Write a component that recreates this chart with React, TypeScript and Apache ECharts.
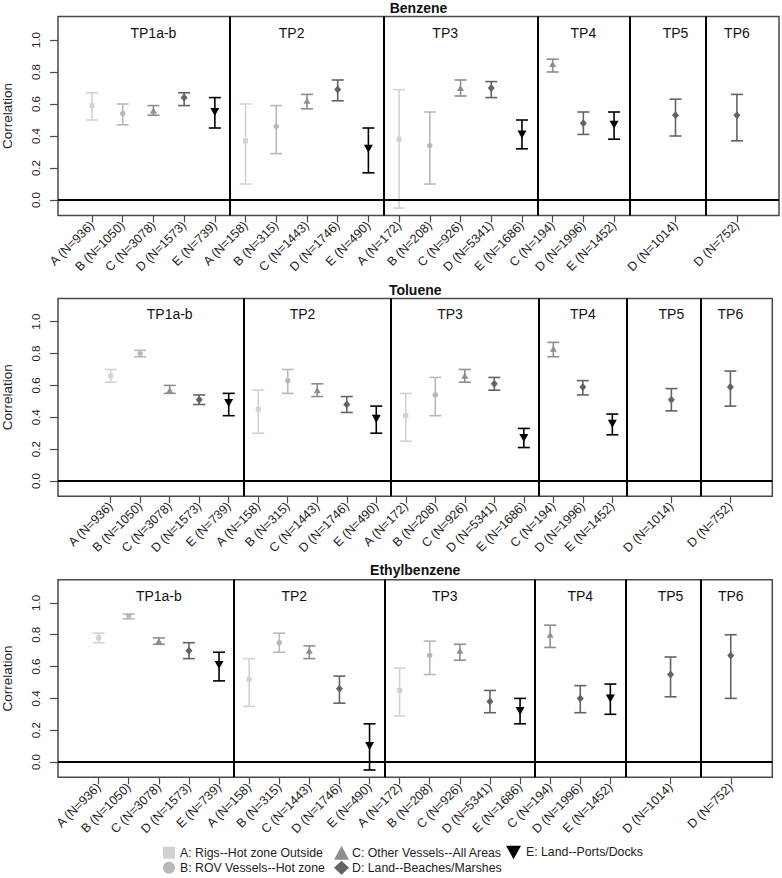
import React, { useEffect, useRef } from "react";
import * as echarts from "echarts";

// ---- data ----
const positions = [0, 1, 2, 3, 4, 5, 6, 7, 8, 9, 10, 11, 12, 13, 14, 15, 16, 17, 19, 21];
const groupOf = ["A", "B", "C", "D", "E", "A", "B", "C", "D", "E", "A", "B", "C", "D", "E", "C", "D", "E", "D", "D"];
const tickLabels = [
  "A (N=936)", "B (N=1050)", "C (N=3078)", "D (N=1573)", "E (N=739)",
  "A (N=158)", "B (N=315)", "C (N=1443)", "D (N=1746)", "E (N=490)",
  "A (N=172)", "B (N=208)", "C (N=926)", "D (N=5341)", "E (N=1686)",
  "C (N=194)", "D (N=1996)", "E (N=1452)", "D (N=1014)", "D (N=752)",
];
const tpLabels = ["TP1a-b", "TP2", "TP3", "TP4", "TP5", "TP6"];
const tpCenters = [2, 6.5, 11.5, 16, 19, 21];
const tpDividers = [4.5, 9.5, 14.5, 17.5, 20];
const yTicks = [0, 0.2, 0.4, 0.6, 0.8, 1.0];

const chemicals = ["Benzene", "Toluene", "Ethylbenzene"];

const benzeneMean = [0.59, 0.54, 0.56, 0.64, 0.55, 0.37, 0.46, 0.62, 0.69, 0.32, 0.38, 0.34, 0.70, 0.70, 0.41, 0.85, 0.48, 0.47, 0.53, 0.53];
const benzeneLow = [0.50, 0.47, 0.53, 0.59, 0.45, 0.10, 0.29, 0.57, 0.62, 0.17, -0.05, 0.10, 0.65, 0.64, 0.32, 0.80, 0.41, 0.38, 0.40, 0.37];
const benzeneHigh = [0.67, 0.60, 0.59, 0.67, 0.64, 0.60, 0.59, 0.66, 0.75, 0.45, 0.69, 0.55, 0.75, 0.74, 0.50, 0.88, 0.55, 0.55, 0.63, 0.66];

const tolueneMean = [0.66, 0.80, 0.57, 0.51, 0.49, 0.45, 0.63, 0.57, 0.48, 0.39, 0.41, 0.54, 0.66, 0.61, 0.27, 0.83, 0.59, 0.36, 0.51, 0.59];
const tolueneLow = [0.62, 0.78, 0.55, 0.48, 0.41, 0.30, 0.55, 0.53, 0.43, 0.30, 0.25, 0.41, 0.62, 0.57, 0.21, 0.78, 0.54, 0.29, 0.44, 0.47];
const tolueneHigh = [0.70, 0.82, 0.60, 0.54, 0.55, 0.57, 0.70, 0.61, 0.53, 0.47, 0.55, 0.65, 0.70, 0.65, 0.33, 0.87, 0.63, 0.42, 0.58, 0.69];

const ethylMean = [0.78, 0.92, 0.76, 0.70, 0.61, 0.52, 0.75, 0.70, 0.46, 0.10, 0.45, 0.67, 0.70, 0.38, 0.32, 0.80, 0.40, 0.40, 0.55, 0.67];
const ethylLow = [0.75, 0.90, 0.74, 0.65, 0.51, 0.35, 0.69, 0.65, 0.37, -0.05, 0.29, 0.55, 0.64, 0.31, 0.24, 0.72, 0.31, 0.30, 0.41, 0.40];
const ethylHigh = [0.81, 0.93, 0.78, 0.75, 0.69, 0.65, 0.81, 0.73, 0.54, 0.24, 0.59, 0.76, 0.74, 0.45, 0.40, 0.86, 0.48, 0.49, 0.66, 0.80];

const groups = ["A", "B", "C", "D", "E"];
const groupNames = [
  "A: Rigs--Hot zone Outside",
  "B: ROV Vessels--Hot zone",
  "C: Other Vessels--All Areas",
  "D: Land--Beaches/Marshes",
  "E: Land--Ports/Docks",
];

// ---- styles ----
const FONT = "Liberation Sans, Arial, Helvetica, sans-serif";
const groupColors = ["#d2d2d2", "#b8b8b8", "#8e8e8e", "#636363", "#000000"];
const groupSymbols = ["rect", "circle", "triangle", "diamond", "triangle"];
const groupSizes: any[] = [5, 5.5, [7, 6], [7, 8], [9, 8]];
const groupRotate = [0, 0, 0, 0, 180];
const downTri = "path://M0,0L10,0L5,9Z";

const panels = [
  { top: 16.6, height: 198.8, right: 3, xMin: -1.107, xMax: 22.37, titleX: 418.5, titleTop: 1 },
  { top: 298.4, height: 197.9, right: 9.7, xMin: -1.785, xMax: 22.42, titleX: 415.2, titleTop: 282.5 },
  { top: 579.7, height: 197.6, right: 9.7, xMin: -1.35, xMax: 22.38, titleX: 415.2, titleTop: 563 },
];

function buildOption() {
  const means = [benzeneMean, tolueneMean, ethylMean];
  const lows = [benzeneLow, tolueneLow, ethylLow];
  const highs = [benzeneHigh, tolueneHigh, ethylHigh];

  const grid: any[] = [];
  const xAxis: any[] = [];
  const yAxis: any[] = [];
  const title: any[] = [];
  const series: any[] = [];

  panels.forEach((p, pi) => {
    grid.push({
      left: 58,
      right: p.right,
      top: p.top,
      height: p.height,
      containLabel: false,
      outerBoundsMode: "none",
      show: true,
      borderColor: "#4a4a4a",
      borderWidth: 1.5,
      backgroundColor: "transparent",
    });
    xAxis.push({
      type: "value",
      gridIndex: pi,
      position: "bottom",
      min: p.xMin,
      max: p.xMax,
      splitLine: { show: false },
      axisLine: { show: false, onZero: false },
      axisTick: {
        show: true,
        customValues: positions,
        length: 7,
        lineStyle: { color: "#4a4a4a", width: 1.2 },
      },
      axisLabel: {
        customValues: positions,
        rotate: 45,
        margin: 8,
        fontSize: 12.5,
        fontFamily: FONT,
        color: "#222",
        formatter: (v: number) => {
          const i = positions.indexOf(Math.round(v));
          return i >= 0 ? tickLabels[i] : "";
        },
      },
    });
    yAxis.push({
      type: "value",
      gridIndex: pi,
      position: "left",
      min: -0.096,
      max: 1.146,
      splitLine: { show: false },
      axisLine: { show: false, onZero: false },
      name: "Correlation",
      nameLocation: "middle",
      nameRotate: 90,
      nameGap: 44,
      nameTextStyle: { fontSize: 13.5, fontFamily: FONT, color: "#222" },
      axisTick: {
        show: true,
        customValues: yTicks,
        length: 8,
        lineStyle: { color: "#4a4a4a", width: 1.2 },
      },
      axisLabel: {
        customValues: yTicks,
        rotate: 90,
        margin: 16,
        fontSize: 11.5,
        fontFamily: FONT,
        color: "#222",
        formatter: (v: number) => v.toFixed(1),
      },
    });
    title.push({
      text: chemicals[pi],
      left: p.titleX,
      top: p.titleTop,
      textAlign: "center",
      padding: 0,
      textStyle: { fontSize: 14, fontWeight: "bold", fontFamily: FONT, color: "#111" },
    });

    // decorations: dividers, zero line, TP labels
    series.push({
      type: "custom",
      name: "tp" + pi,
      xAxisIndex: pi,
      yAxisIndex: pi,
      silent: true,
      z: 1,
      data: tpCenters.map((x, i) => [x, 1.045, i]),
      renderItem: (params: any, api: any) => {
        const pt = api.coord([api.value(0), api.value(1)]);
        return {
          type: "text",
          x: pt[0],
          y: pt[1],
          style: {
            text: tpLabels[api.value(2)],
            fill: "#111",
            font: "14px " + FONT,
            align: "center",
            verticalAlign: "middle",
          },
        };
      },
      markLine: {
        silent: true,
        symbol: ["none", "none"],
        label: { show: false },
        lineStyle: { color: "#000", width: 2, type: "solid" },
        data: [...tpDividers.map((x) => ({ xAxis: x })), { yAxis: 0 }],
      },
    });

    groups.forEach((g, gi) => {
      const idx = groupOf.map((gg, i) => (gg === g ? i : -1)).filter((i) => i >= 0);
      const color = groupColors[gi];
      series.push({
        type: "custom",
        name: groupNames[gi],
        xAxisIndex: pi,
        yAxisIndex: pi,
        z: 2,
        silent: true,
        encode: { x: 0, y: [1, 2, 3] },
        data: idx.map((i) => [positions[i], means[pi][i], lows[pi][i], highs[pi][i]]),
        itemStyle: { color },
        renderItem: (params: any, api: any) => {
          const x = api.value(0);
          const t = api.coord([x, api.value(3)]);
          const b = api.coord([x, api.value(2)]);
          const style = { stroke: color, lineWidth: 1.6 };
          return {
            type: "group",
            children: [
              { type: "line", shape: { x1: t[0], y1: t[1], x2: b[0], y2: b[1] }, style },
              { type: "line", shape: { x1: t[0] - 6, y1: t[1], x2: t[0] + 6, y2: t[1] }, style },
              { type: "line", shape: { x1: b[0] - 6, y1: b[1], x2: b[0] + 6, y2: b[1] }, style },
            ],
          };
        },
      });
      series.push({
        type: "scatter",
        name: groupNames[gi],
        xAxisIndex: pi,
        yAxisIndex: pi,
        z: 3,
        symbol: groupSymbols[gi],
        symbolSize: groupSizes[gi],
        symbolRotate: groupRotate[gi],
        itemStyle: { color, opacity: 1 },
        data: idx.map((i) => [positions[i], means[pi][i]]),
      });
    });
  });

  const legendIcons = ["rect", "circle", "triangle", "diamond", downTri];
  const legendText = { fontSize: 12.3, fontFamily: FONT, color: "#222", lineHeight: 12 };
  const mkItem = (gi: number) => ({
    name: groupNames[gi],
    icon: legendIcons[gi],
    itemStyle: { color: groupColors[gi] },
  });
  const legend = [
    {
      left: 163, top: 846.7, orient: "vertical", itemWidth: 12, itemHeight: 12, itemGap: 3,
      padding: 0, selectedMode: false, textStyle: legendText, data: [mkItem(0), mkItem(1)],
    },
    {
      left: 334, top: 845.7, orient: "vertical", itemWidth: 15, itemHeight: 14, itemGap: 1,
      padding: 0, selectedMode: false, textStyle: { ...legendText, padding: [0, 0, 0, -2] }, data: [mkItem(2), mkItem(3)],
    },
    {
      left: 506, top: 845.7, orient: "vertical", itemWidth: 15, itemHeight: 14, itemGap: 1,
      padding: 0, selectedMode: false, textStyle: legendText, data: [mkItem(4)],
    },
  ];

  return {
    animation: false,
    backgroundColor: "#ffffff",
    textStyle: { fontFamily: FONT },
    title,
    grid,
    xAxis,
    yAxis,
    legend,
    series,
  };
}

export default function App() {
  const ref = useRef<HTMLDivElement>(null);
  useEffect(() => {
    if (!ref.current) return;
    const chart = echarts.init(ref.current, null, { renderer: "svg" });
    chart.setOption(buildOption() as any);
    return () => chart.dispose();
  }, []);
  return (
    <div
      ref={ref}
      style={{ position: "absolute", left: 0, top: 0, width: 782, height: 878, background: "#fff" }}
    />
  );
}
